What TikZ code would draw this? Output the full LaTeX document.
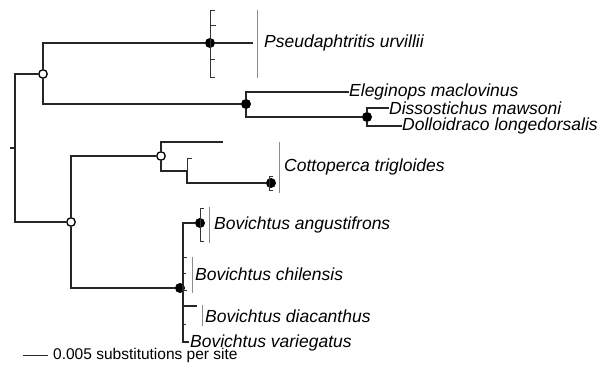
\documentclass[tikz,border=0pt]{standalone}
\usepackage{fontspec}
\setmainfont{Liberation Sans}
\usetikzlibrary{positioning}

\begin{document}
\begin{tikzpicture}[x=1pt, y=-1pt,
  branch/.style={draw=black!85, line width=1.2pt},
  errbar/.style={draw=black!80, line width=0.7pt},
  cladebar/.style={draw=black!45, line width=0.9pt},
  solidnode/.style={circle, fill=black, inner sep=0pt, minimum size=10pt},
  hollownode/.style={circle, draw=black, line width=1.3pt, fill=white, inner sep=0pt, minimum size=8.5pt},
  taxon/.style={font=\fontsize{17.5}{19}\selectfont\itshape, anchor=west, inner sep=0pt},
  scaletxt/.style={font=\fontsize{15.5}{18}\selectfont, anchor=west, inner sep=0pt}
]
\useasboundingbox (0,0) rectangle (604,374);

% Nudos internos
\coordinate (root) at (15,148);
\node[hollownode] (nA) at (43,74) {};
\node[hollownode] (nB) at (71,222) {};
\node[solidnode] (pseu) at (210,43) {};
\node[solidnode] (notho) at (246,104) {};
\node[solidnode] (disso) at (367,117) {};
\node[hollownode] (cott) at (161,156) {};
\node[solidnode] (cottip) at (271,183) {};
\coordinate (cbr) at (187,171);
\coordinate (cup) at (223,142);
\node[solidnode] (bov) at (180,288) {};
\coordinate (bstem) at (183,288);
\node[solidnode] (bovang) at (200,223) {};
\coordinate (bdia) at (197,306);
\coordinate (bvar) at (189,342);
\coordinate (ptip) at (253,43);

% Etiquetas de taxones
\node[taxon] (tpseu) at (264,43) {Pseudaphtritis urvillii};
\node[taxon] (telg) at (349,92) {Eleginops maclovinus};
\node[taxon] (tdmaw) at (389,108) {Dissostichus mawsoni};
\node[taxon] (tdlon) at (402,126) {Dolloidraco longedorsalis};
\node[taxon] (tcott) at (284,167) {Cottoperca trigloides};
\node[taxon] (tbang) at (214,225) {Bovichtus angustifrons};
\node[taxon] (tbchi) at (195,274) {Bovichtus chilensis};
\node[taxon] (tbdia) at (205,316) {Bovichtus diacanthus};
\node[taxon] (tbvar) at (190,343) {Bovichtus variegatus};

% Ramas
\path[branch] (nA) -| (root) |- (nB);
\path[branch] (root) -- ++(-5,0);
\path[branch] (nA) |- (pseu) -- (ptip);
\path[branch] (nA) |- (notho);
\path[branch] (notho) |- (telg.west);
\path[branch] (notho) |- (disso);
\path[branch] (disso) |- (tdmaw.west);
\path[branch] (disso) |- (tdlon.west);
\path[branch] (nB) |- (cott);
\path[branch] (cott) |- (cup);
\path[branch] (cott) |- (cbr);
\path[branch] (cbr) |- (cottip);
\path[branch] (nB) |- (bov);
\path[branch] (bstem) |- (bovang);
\path[branch] (bstem) |- (bdia);
\path[branch] (bstem) |- (bvar);

% Barras de intervalo
\path[errbar] (215,10) -- (210,10) -- (210,77) -- (215,77);
\path[errbar] (210,25) -- (216,25) (210,59) -- (215,59);
\path[errbar] (192,158) -- (187,158) -- (cbr);
\path[errbar] (273,176) -- (269,176) -- (269,190) -- (273,190);
\path[errbar] (204,208) -- (200,208) -- (200,241) -- (204,241);
\path[errbar] (183,257) -- (187,257) (183,273) -- (186,273) (183,290) -- (187,290) (183,324) -- (186,324);

% Barras de clado
\path[cladebar] (257,10) -- (257,78);
\path[cladebar] (279,142) -- (279,193);
\path[cladebar] (209,207) -- (209,243);
\path[cladebar] (192,257) -- (192,293);
\path[cladebar] (202,305) -- (202,326);

% Escala
\coordinate (sc) at (23,355);
\node[scaletxt] (tsc) at (53,355) {0.005 substitutions per site};
\path[branch, line width=0.9pt] (sc) -- ([xshift=-5]tsc.west);

\end{tikzpicture}
\end{document}
